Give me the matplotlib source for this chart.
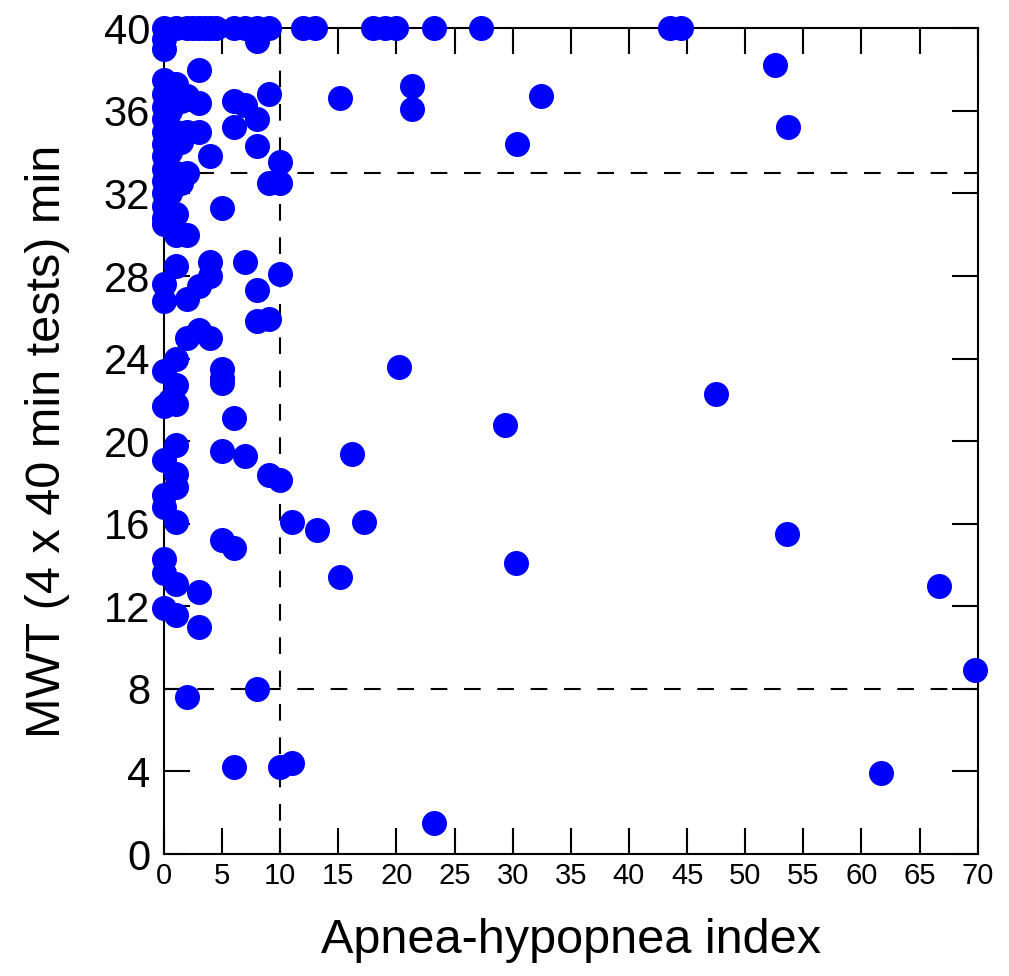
import matplotlib
matplotlib.use("Agg")
import matplotlib.pyplot as plt

plt.rcParams['font.family'] = ['Liberation Sans', 'DejaVu Sans']

# Apnea-hypopnea index (x) and MWT minutes (y)
ahi = ([0]*26 + [0.5]*5 + [1]*16 + [1.5]*3 + [2]*8 + [3]*8 + [4]*5 + [5]*6 + [6]*6 + [7]*4
       + [8]*7 + [9]*5 + [10]*5 + [11]*2 + [3.5, 4.5, 2.5]
       + [12, 13, 13.2, 15.1, 15.1, 16.2, 17.2, 18, 19, 20, 20.2, 21.3, 21.3, 23.2, 23.2,
          27.3, 29.3, 30.4, 30.3, 32.4, 43.5, 44.5, 47.5, 52.6, 53.7, 53.6, 61.7, 66.7, 69.8])
mwt = ([40, 39.5, 39, 37.5, 36.8, 36.2, 35.6, 35, 34.4, 33.8, 33.2, 32.6, 32, 31.4, 30.8, 30.5,
        27.6, 26.8, 23.4, 21.7, 19.1, 17.4, 16.8, 14.3, 13.6, 11.9]
       + [36, 34, 32, 30.5, 22]
       + [40, 37.3, 35, 33, 31, 30, 28.5, 24, 22.7, 21.8, 19.8, 18.4, 17.8, 16.1, 13.1, 11.6]
       + [36.5, 34.5, 32.5]
       + [40, 36.7, 35, 33, 30, 26.9, 25, 7.6]
       + [40, 38, 36.4, 35, 27.5, 25.4, 12.7, 11.0]
       + [40, 33.8, 28.7, 28, 25]
       + [31.3, 23.5, 23.05, 22.8, 19.5, 15.2]
       + [40, 36.5, 35.2, 21.1, 14.8, 4.2]
       + [40, 36.3, 28.7, 19.3]
       + [40, 39.4, 35.6, 34.3, 27.3, 25.8, 8.0]
       + [40, 36.8, 32.5, 25.9, 18.35]
       + [33.5, 32.5, 28.1, 18.1, 4.2]
       + [16.1, 4.4]
       + [40, 40, 40]
       + [40, 40, 15.7, 36.6, 13.4, 19.4, 16.1, 40, 40, 40, 23.6, 37.2, 36.1, 40, 1.5,
          40, 20.8, 34.4, 14.1, 36.7, 40, 40, 22.3, 38.2, 35.2, 15.5, 3.9, 13.0, 8.9])

xticks = list(range(0, 71, 5))
yticks = list(range(0, 41, 4))
ref_x = [10]
ref_y = [33, 8]

fig = plt.figure(figsize=(10.09, 9.76), dpi=100)
ax = fig.add_axes([0.1625, 0.125, 0.969 - 0.1625, 0.971 - 0.125])

for xv in ref_x:
    ax.axvline(xv, color='black', lw=1.5, ls=(0, (8, 8)), zorder=1)
for yv in ref_y:
    ax.axhline(yv, color='black', lw=1.5, ls=(0, (8, 8)), zorder=1)

ax.plot(ahi, mwt, 'o', color='#0000ff', ms=17, mec='#0000ff', clip_on=False, zorder=3)

ax.set_xlim(0, 70)
ax.set_ylim(0, 40)
ax.set_xticks(xticks)
ax.set_yticks(yticks)
ax.tick_params(direction='in', length=19, width=1.5, top=True, right=True)
ax.tick_params(axis='x', labelsize=21, pad=6)
ax.tick_params(axis='y', labelsize=30, pad=10)
for s in ax.spines.values():
    s.set_linewidth(1.5)
ax.set_xlabel('Apnea-hypopnea index', fontsize=35, labelpad=20)
ax.set_ylabel('MWT (4 x 40 min tests) min', fontsize=35, labelpad=24)

fig.savefig('out.png', dpi=100)
